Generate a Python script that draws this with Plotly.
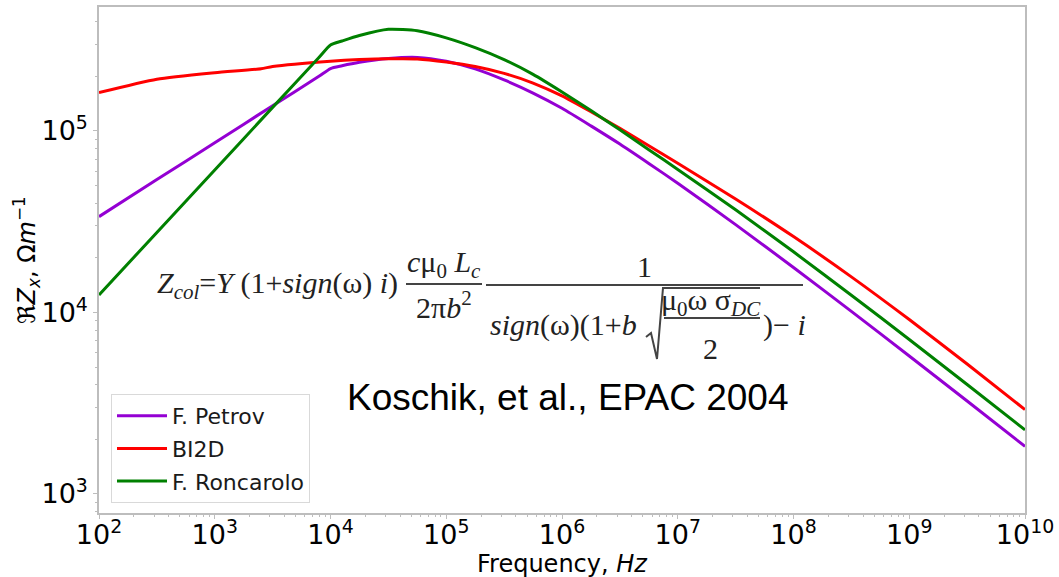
import plotly.graph_objects as go

# ---- data: real part of the transverse collimator impedance ----
freq_petrov = [1e2, 3.162e2, 1e3, 3.162e3, 7.943e3, 1e4, 1.259e4, 1.778e4, 3.162e4, 5.623e4,
               1e5, 1.778e5, 3.162e5, 5.623e5, 1e6, 1.778e6, 3.162e6, 5.623e6,
               1e7, 3.162e7, 1e8, 3.162e8, 1e9, 3.162e9, 1e10]
z_petrov = [33730, 53950, 86100, 137700, 200000, 220800, 228600, 238800, 250600, 254100,
            242100, 219800, 191000, 161800, 133400, 106700, 84720, 66220,
            51520, 30480, 17700, 10140, 5754, 3251, 1828]

freq_bi2d = [1e2, 3.162e2, 1e3, 2.512e3, 3.162e3, 1e4, 1.778e4, 3.162e4, 5.623e4,
             1e5, 1.778e5, 3.162e5, 5.623e5, 1e6, 1.778e6, 3.162e6, 5.623e6,
             1e7, 3.162e7, 1e8, 3.162e8, 1e9, 3.162e9, 1e10]
z_bi2d = [162600, 192800, 209400, 220300, 226500, 242100, 247200, 250000, 249500,
          239900, 226500, 207500, 183700, 156000, 127600, 103500, 82990,
          66370, 42170, 26180, 15710, 9141, 5200, 2917]

freq_roncarolo = [1e2, 3.162e2, 1e3, 3.162e3, 7.943e3, 1e4, 1.259e4, 1.778e4, 3.162e4, 5.623e4,
                  1e5, 1.778e5, 3.162e5, 5.623e5, 1e6, 1.778e6, 3.162e6, 5.623e6,
                  1e7, 3.162e7, 1e8, 3.162e8, 1e9, 3.162e9, 1e10]
z_roncarolo = [12470, 27610, 60950, 134900, 254100, 297900, 313300, 335700, 363100, 356500,
               325800, 287700, 247200, 205100, 164100, 129700, 101400, 78890,
               61380, 36810, 21580, 12450, 7096, 4009, 2254]

series_names = ["F. Petrov", "BI2D", "F. Roncarolo"]
series_colors = ["#9400d3", "#ff0000", "#008000"]

x_tickvals = [1e2, 1e3, 1e4, 1e5, 1e6, 1e7, 1e8, 1e9, 1e10]
x_ticktext = ["10<sup>2</sup>", "10<sup>3</sup>", "10<sup>4</sup>", "10<sup>5</sup>", "10<sup>6</sup>",
              "10<sup>7</sup>", "10<sup>8</sup>", "10<sup>9</sup>", "10<sup>10</sup>"]
y_tickvals = [1e3, 1e4, 1e5]
y_ticktext = ["10<sup>3</sup>", "10<sup>4</sup>", "10<sup>5</sup>"]

W, H = 1059, 577
L, R, T, B = 99, 1025, 7, 513


def px(x):
    return (x - L) / (R - L)


def py(y):
    return (B - y) / (B - T)


fig = go.Figure()
for name, fx, fz, col in zip(series_names,
                             [freq_petrov, freq_bi2d, freq_roncarolo],
                             [z_petrov, z_bi2d, z_roncarolo],
                             series_colors):
    fig.add_trace(go.Scatter(x=fx, y=fz, mode="lines", name=name, legendgroup=name,
                             line=dict(color=col, width=3, shape="spline", smoothing=0.6)))

axis_common = dict(
    type="log", showgrid=False, zeroline=False, automargin=False,
    showline=True, linecolor="#bdbdbd", linewidth=1.5, mirror=True,
    ticks="outside", ticklen=4, tickwidth=1, tickcolor="#bdbdbd",
    tickmode="array",
    tickfont=dict(family="DejaVu Sans", size=27, color="black"),
    minor=dict(ticks="outside", ticklen=2.5, tickcolor="#bdbdbd", dtick="D1", showgrid=False),
)

fig.update_layout(
    width=W, height=H, autosize=False,
    margin=dict(l=L, r=W - R, t=T, b=H - B),
    paper_bgcolor="white", plot_bgcolor="white",
    font=dict(family="DejaVu Sans", color="black"),
    showlegend=True,
    legend=dict(x=px(111), y=py(503), xanchor="left", yanchor="bottom",
                bgcolor="white", bordercolor="#d9d9d9", borderwidth=1,
                font=dict(family="DejaVu Sans", size=22, color="#1a1a1a"),
                tracegroupgap=1, itemwidth=50),
    xaxis=dict(axis_common, range=[2, 10], tickvals=x_tickvals, ticktext=x_ticktext,
               ticklabelstandoff=-7),
    yaxis=dict(axis_common, range=[2.895, 5.683], tickvals=y_tickvals, ticktext=y_ticktext),
)


def label(text, x, y, xanchor="center", size=30, family="Liberation Serif",
          color="#222222", angle=0):
    fig.add_annotation(text=text, x=px(x), y=py(y), xref="paper", yref="paper",
                       xanchor=xanchor, yanchor="middle", showarrow=False, textangle=angle,
                       font=dict(family=family, size=size, color=color))


def hbar(x0, x1, y, width=2):
    fig.add_shape(type="line", xref="paper", yref="paper",
                  x0=px(x0), x1=px(x1), y0=py(y), y1=py(y),
                  line=dict(color="#444444", width=width))


# axis titles
label("Frequency, <i>Hz</i>", 562, 564, size=24, family="DejaVu Sans", color="black")
label("ℜ<i>Z<sub>x</sub></i>, Ω<i>m</i><sup>−1</sup>", 26, 260, size=24,
      family="DejaVu Sans", color="black", angle=-90)

# ---- collimator impedance formula (Koschik et al.) ----
label("<i>Z</i><sub><i>col</i></sub>=<i>Y</i> (1+<i>sign</i>(ω) <i>i</i>)", 155, 285, "left")
label("<i>c</i>μ<sub>0</sub> <i>L</i><sub><i>c</i></sub>", 444, 264)
hbar(406, 482, 284)
label("2π<i>b</i><sup>2</sup>", 444, 305)
hbar(486, 803, 285)
label("1", 644, 267)
label("<i>sign</i>(ω)(1+<i>b</i>", 488, 325, "left")
# radical sign over the inner fraction
pts = [(646, 337), (651, 333), (657, 359), (663, 288), (760, 288)]
path = "M " + " L ".join(f"{px(a):.5f},{py(b):.5f}" for a, b in pts)
fig.add_shape(type="path", xref="paper", yref="paper", path=path,
              line=dict(color="#444444", width=2))
label("μ<sub>0</sub>ω σ<sub><i>DC</i></sub>", 711, 302)
hbar(664, 760, 318)
label("2", 710, 348)
label(")− <i>i</i>", 761, 325, "left")

label("Koschik, et al., EPAC 2004", 568, 397, size=37, family="Liberation Sans", color="black")

fig.write_html("out.html")
